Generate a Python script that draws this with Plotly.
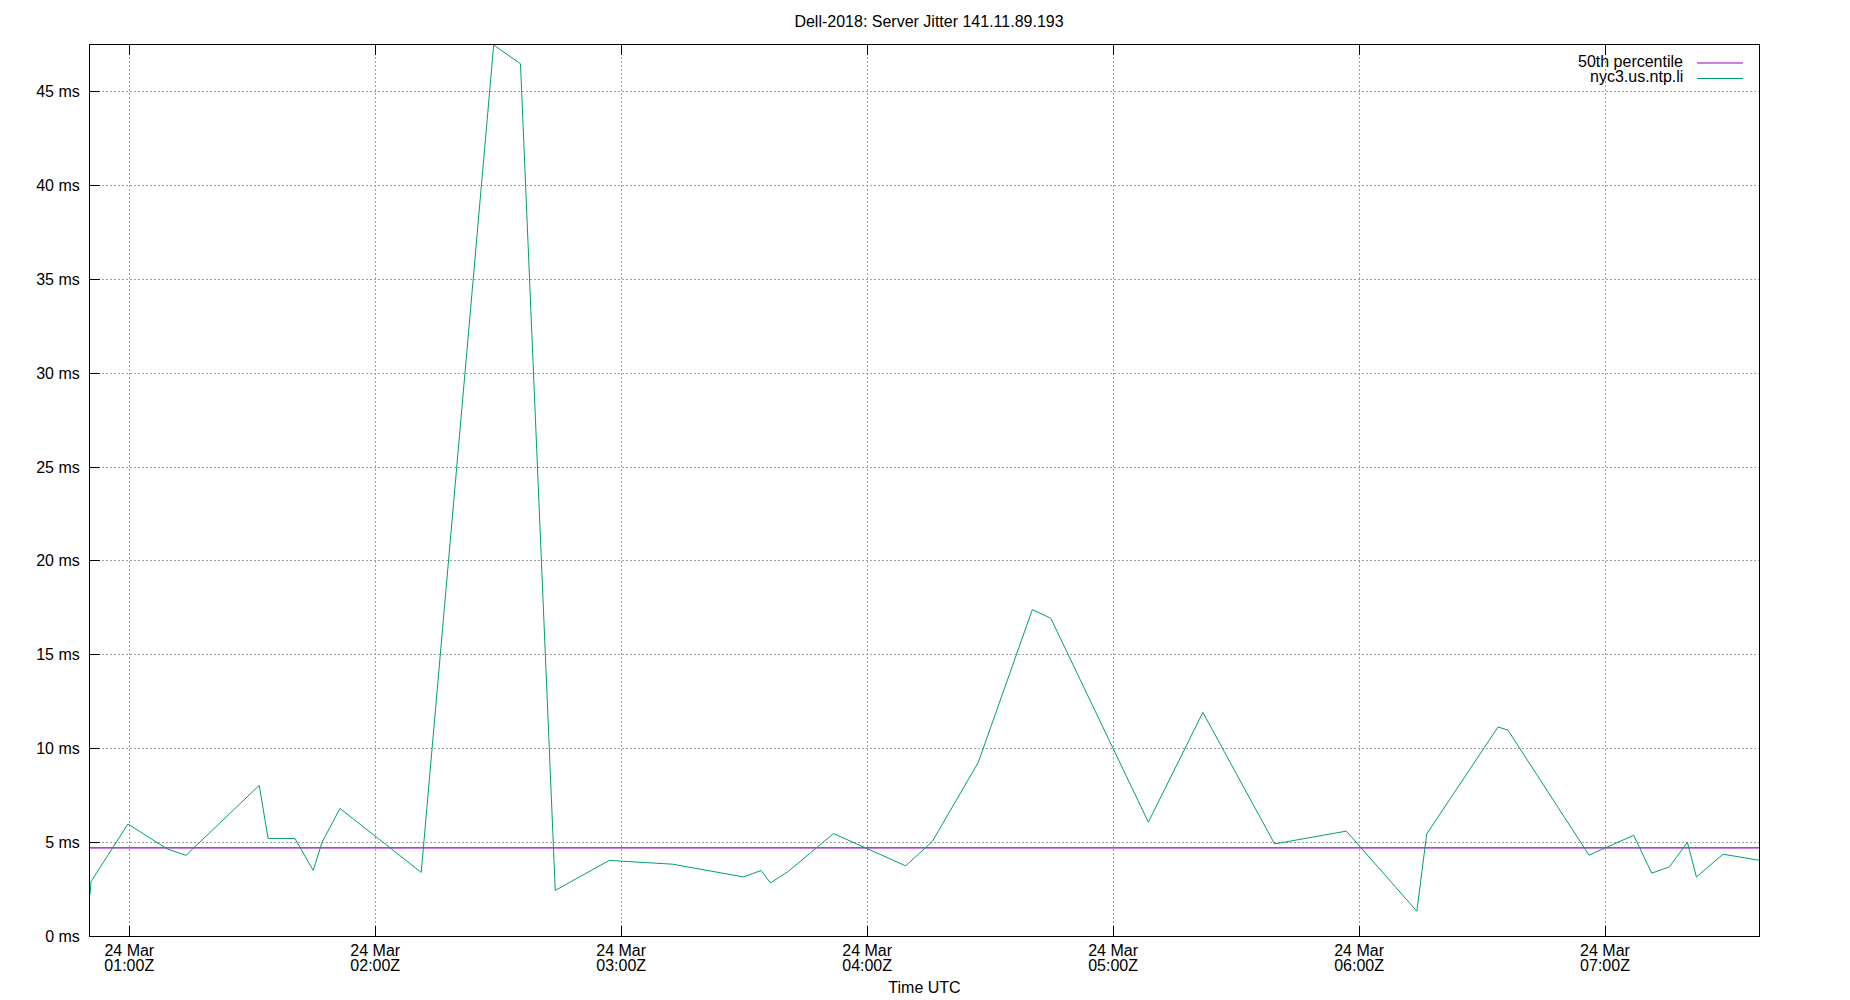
import plotly.graph_objects as go

DAY = '2024-03-24'

# sample times (UTC) and jitter readings for nyc3.us.ntp.li
times = [
    '00:50:25', '00:50:40', '00:59:40', '01:09:15', '01:13:50', '01:31:42',
    '01:33:52', '01:40:24', '01:44:52', '01:47:02', '01:51:24', '02:11:13',
    '02:28:54', '02:35:26', '02:43:55', '02:57:05', '03:12:30', '03:29:48',
    '03:34:08', '03:36:24', '03:40:48', '03:51:48', '04:09:24', '04:15:54',
    '04:27:06', '04:40:18', '04:44:48', '05:08:36', '05:21:54', '05:39:24',
    '05:56:54', '06:14:06', '06:16:30', '06:33:54', '06:36:18', '06:56:06',
    '07:07:00', '07:11:24', '07:15:42', '07:20:06', '07:22:18', '07:28:48',
    '07:37:34',
]
jitter_ms = [
    2.2, 2.9, 5.97, 4.64, 4.30, 8.03,
    5.2, 5.2, 3.5, 5.0, 6.8, 3.39,
    47.5, 46.5, 2.43, 4.03, 3.83, 3.15,
    3.49, 2.83, 3.45, 5.46, 3.74, 5.04,
    9.25, 17.4, 16.94, 6.07, 11.92, 4.91,
    5.59, 1.32, 5.44, 11.14, 10.98, 4.31,
    5.37, 3.35, 3.68, 5.0, 3.15, 4.36,
    4.04,
]
p50_ms = 4.70

series_names = ['50th percentile', 'nyc3.us.ntp.li']
series_colors = ['#9400d3', '#009e73']

x = [DAY + ' ' + t for t in times]

# the page body has an 8px margin, so the figure is 8px smaller
OFF = 8
W, H = 1850 - OFF, 1000 - OFF
# plot box in screen pixels
L, R, T, B = 90, 1759, 45, 936


def px(xp):
    return (xp - L) / (R - L)


def py(yp):
    return (B - yp) / (B - T)


fig = go.Figure()

fig.add_trace(go.Scatter(x=[x[0], x[-1]], y=[p50_ms, p50_ms], mode='lines',
    name=series_names[0], line=dict(color=series_colors[0], width=1.2)))

fig.add_trace(go.Scatter(x=x, y=jitter_ms, mode='lines', xaxis='x2',
    name=series_names[1], line=dict(color=series_colors[1], width=1)))

grid = dict(showgrid=True, gridcolor='#a0a0a0', griddash='2px,2px', gridwidth=1)

fig.update_layout(
    width=W, height=H,
    margin=dict(l=L - OFF, r=W - (R - OFF), t=T - OFF, b=H - (B - OFF)),
    paper_bgcolor='white', plot_bgcolor='white',
    font=dict(family='Liberation Sans, Arial, sans-serif', size=16, color='black'),
    showlegend=False,
    title=dict(text='Dell-2018: Server Jitter 141.11.89.193', x=0.5, xanchor='center',
               y=1 - (21 - OFF) / H, yanchor='middle', yref='container',
               font=dict(size=16)),
    xaxis=dict(type='date', range=[x[0], x[-1]], tick0=DAY + ' 01:00', dtick=3600000,
               tickformat='%d %b', ticks='inside', ticklen=10, tickcolor='black',
               showline=True, linecolor='black', linewidth=1, mirror='ticks',
               zeroline=False, ticklabelstandoff=0, automargin=False,
               title=dict(text='Time UTC', standoff=23, font=dict(size=16)), **grid),
    xaxis2=dict(type='date', overlaying='x', matches='x', side='bottom', anchor='y',
                tick0=DAY + ' 01:00', dtick=3600000, tickformat='%H:%MZ',
                ticks='', showgrid=False, showline=False, zeroline=False,
                ticklabelstandoff=18, automargin=False),
    yaxis=dict(range=[0, max(jitter_ms)], tick0=0, dtick=5, ticksuffix=' ms',
               ticks='inside', ticklen=10, tickcolor='black', ticklabelstandoff=6,
               showline=True, linecolor='black', linewidth=1, mirror=True,
               zeroline=False, automargin=False, **grid),
)

# gnuplot style key: text right aligned, sample line to the right
for i, (name, color) in enumerate(zip(series_names, series_colors)):
    yl = 63 + i * 15.5
    fig.add_annotation(xref='paper', yref='paper', x=px(1685), y=py(yl - 1.5),
                       xanchor='right', yanchor='middle', text=name, showarrow=False)
    fig.add_shape(type='line', xref='paper', yref='paper',
                  x0=px(1697), x1=px(1743), y0=py(yl), y1=py(yl),
                  line=dict(color=color, width=1.2))

fig.write_html('out.html')
